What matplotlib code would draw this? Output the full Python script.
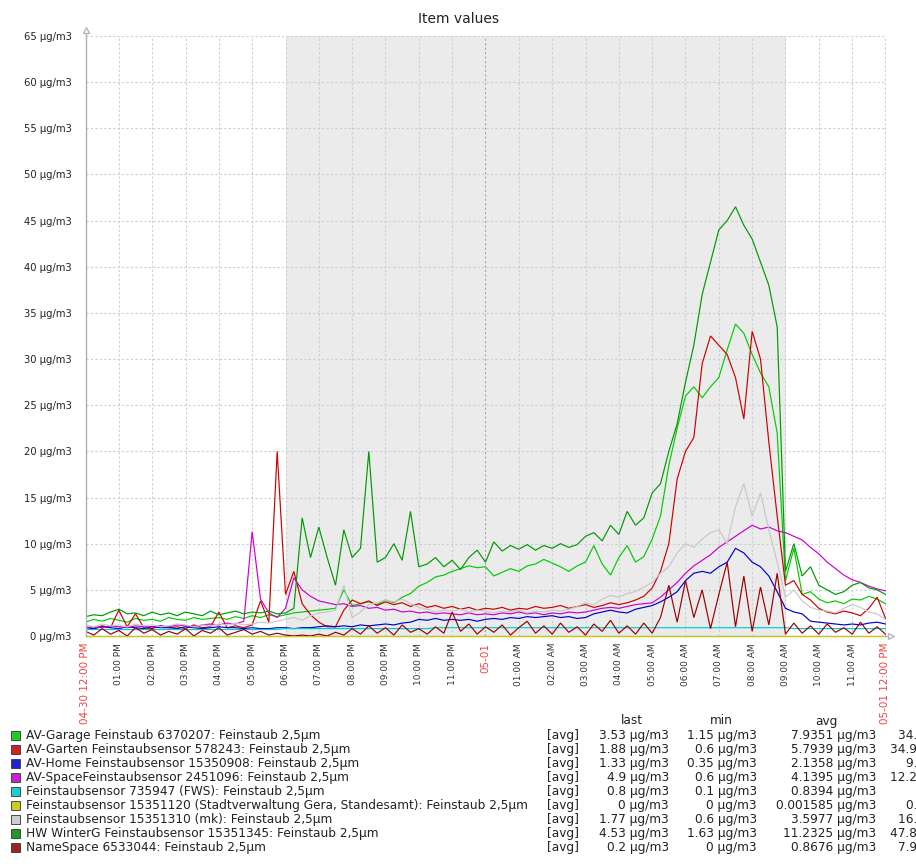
import matplotlib
matplotlib.use("Agg")
import matplotlib.pyplot as plt
from matplotlib.patches import Rectangle
import numpy as np

# ---------------- data (15-minute samples, 04-30 12:00 PM .. 05-01 12:00 PM) ----------------
hours = [i * 0.25 for i in range(97)]

av_garage = [1.5, 1.8, 1.6, 1.9, 1.7, 1.5, 1.9, 1.7, 1.8, 1.6, 2.0, 1.8, 1.7, 2.0, 1.8, 1.9,
             2.0, 1.8, 2.1, 1.9, 2.2, 2.0, 2.3, 2.1, 2.3, 2.5, 2.6, 2.7, 2.8, 2.9, 3.0, 5.0,
             3.3, 3.5, 3.7, 3.4, 3.9, 3.6, 4.2, 4.6, 5.4, 5.8, 6.4, 6.6, 7.0, 7.3, 7.6, 7.4,
             7.5, 6.5, 6.9, 7.3, 7.0, 7.6, 7.8, 8.3, 7.9, 7.5, 7.0, 7.6, 8.0, 9.8, 7.8, 6.6,
             8.5, 9.8, 8.0, 8.6, 10.5, 13.0, 18.5, 22.5, 26.0, 27.0, 25.8, 27.0, 28.0, 31.0, 33.8, 32.8,
             30.5, 28.5, 27.0, 22.0, 6.0, 9.5, 4.5, 4.8, 4.0, 3.6, 3.8, 3.5, 4.0, 3.9, 4.3, 4.0,
             3.5]

av_garten = [1.0, 0.8, 1.1, 0.9, 2.8, 1.0, 2.4, 0.9, 0.8, 1.1, 0.9, 1.0, 0.8, 1.2, 0.9, 1.0,
             2.6, 0.9, 1.1, 0.9, 1.2, 3.8, 1.5, 20.0, 4.5, 7.0, 3.5, 2.3, 1.5, 1.0, 1.0, 2.8,
             3.9, 3.5, 3.8, 3.3, 3.7, 3.4, 3.6, 3.2, 3.5, 3.1, 3.3, 3.0, 3.2, 2.9, 3.1, 2.8,
             3.0, 2.9, 3.1, 2.8, 3.0, 2.9, 3.2, 3.0, 3.1, 3.3, 3.0, 3.2, 3.4, 3.1, 3.3, 3.6,
             3.4, 3.6, 3.9, 4.3, 5.2, 7.0, 10.0, 17.0, 20.0, 21.5, 29.5, 32.5, 31.5, 30.5, 28.0, 23.5,
             33.0, 30.0, 21.0, 13.0, 5.5, 6.0, 4.5, 3.9, 3.0, 2.6, 2.4, 2.7, 2.5, 2.2, 3.0, 4.2,
             1.9]

av_home = [0.9, 0.8, 1.0, 0.9, 0.8, 1.0, 0.9, 0.8, 1.0, 0.9, 0.9, 0.8, 1.0, 0.9, 0.8, 0.9,
           1.0, 0.9, 0.9, 0.8, 0.9, 0.8, 0.8, 0.9, 0.9, 0.8, 0.9, 0.9, 1.0, 1.1, 1.0, 1.1,
           1.0, 1.2, 1.1, 1.2, 1.3, 1.2, 1.4, 1.5, 1.8, 1.7, 1.9, 1.7, 1.8, 1.7, 1.8, 1.6,
           1.8, 1.9, 1.8, 2.0, 1.9, 2.1, 2.0, 2.1, 2.2, 2.0, 2.1, 1.9, 2.0, 2.4, 2.6, 2.8,
           2.6, 2.5, 2.9, 3.1, 3.3, 3.7, 4.2, 4.8, 6.0, 6.8, 7.0, 6.8, 7.5, 8.0, 9.5, 9.0,
           8.0, 7.5, 6.5, 4.8, 3.0, 2.6, 2.4, 1.6, 1.5, 1.4, 1.3, 1.2, 1.3, 1.2, 1.4, 1.5,
           1.3]

av_space = [0.9, 1.0, 0.9, 1.1, 1.0, 0.9, 1.1, 1.0, 1.0, 1.1, 1.0, 1.2, 1.1, 1.0, 1.2, 1.3,
            1.2, 1.4, 1.3, 1.6, 11.3, 4.0, 2.5, 2.0, 3.0, 6.3, 5.0, 4.3, 3.8, 3.6, 3.4, 3.5,
            3.2, 3.3, 3.0, 3.1, 2.8, 2.9, 2.6, 2.7, 2.5, 2.6, 2.4, 2.5, 2.4, 2.3, 2.5, 2.3,
            2.4, 2.3, 2.5, 2.4, 2.6, 2.4, 2.5, 2.3, 2.5, 2.4, 2.6, 2.5, 2.6, 2.8, 3.0, 3.1,
            3.0, 3.2, 3.4, 3.5, 3.6, 4.2, 5.0, 5.8, 6.8, 7.6, 8.2, 8.8, 9.6, 10.2, 10.8, 11.4,
            12.0, 11.6, 11.8, 11.4, 11.2, 10.8, 10.4, 9.6, 8.9, 8.0, 7.3, 6.6, 6.1, 5.8, 5.4, 5.1,
            4.9]

fws = [0.7, 0.7, 0.7, 0.7, 0.7, 0.7, 0.7, 0.7, 0.7, 0.7, 0.7, 0.7, 0.7, 0.7, 0.7, 0.7,
       0.7, 0.7, 0.7, 0.7, 0.7, 0.7, 0.7, 0.7, 0.8, 0.8, 0.8, 0.8, 0.8, 0.8, 0.8, 0.8,
       0.8, 0.8, 0.8, 0.8, 0.8, 0.8, 0.8, 0.8, 0.8, 0.8, 0.9, 0.9, 0.9, 0.9, 0.9, 0.9,
       0.9, 0.9, 0.9, 0.9, 0.9, 0.9, 0.9, 0.9, 0.9, 0.9, 0.9, 0.9, 0.9, 0.9, 0.9, 0.9,
       0.9, 0.9, 0.9, 0.9, 0.9, 0.9, 0.9, 0.9, 0.9, 0.9, 0.9, 0.9, 0.9, 0.9, 0.9, 0.9,
       0.9, 0.9, 0.9, 0.9, 0.9, 0.8, 0.8, 0.8, 0.8, 0.8, 0.8, 0.8, 0.8, 0.8, 0.8, 0.8,
       0.8]

gera = [0, 0, 0, 0, 0, 0, 0, 0, 0, 0, 0, 0, 0, 0, 0, 0, 0, 0, 0, 0, 0, 0, 0, 0,
        0, 0, 0, 0, 0, 0, 0, 0, 0, 0, 0, 0, 0, 0, 0, 0, 0, 0, 0, 0, 0, 0, 0, 0,
        0, 0, 0, 0, 0, 0, 0, 0, 0, 0, 0, 0, 0, 0, 0, 0, 0, 0, 0, 0, 0, 0, 0, 0,
        0, 0, 0, 0, 0, 0, 0, 0, 0, 0, 0, 0, 0, 0, 0, 0, 0, 0, 0, 0, 0, 0, 0, 0,
        0]

mk = [1.2, 1.0, 1.3, 1.1, 1.2, 1.0, 1.3, 1.1, 1.2, 1.0, 1.1, 1.3, 1.2, 1.0, 1.2, 1.1,
      1.3, 1.2, 1.4, 1.2, 1.3, 1.5, 1.4, 1.6, 1.8, 2.0, 1.7, 2.2, 2.5, 2.6, 2.8, 5.5,
      2.0, 2.6, 3.4, 3.6, 3.9, 3.7, 4.0, 3.5, 3.1, 2.9, 2.6, 2.8, 2.7, 2.9, 2.6, 2.8,
      2.7, 2.5, 2.7, 2.6, 2.8, 2.5, 2.7, 2.6, 2.8, 2.7, 2.9, 3.2, 3.6, 3.4, 4.0, 4.4,
      4.2, 4.6, 4.8, 5.3, 5.8, 6.8, 7.5, 9.0, 10.0, 9.6, 10.5, 11.2, 11.5, 10.0, 14.0, 16.5,
      13.0, 15.5, 11.5, 8.0, 4.2, 5.0, 3.8, 3.1, 2.8, 2.7, 2.5, 3.0, 3.4, 3.1, 2.6, 2.4,
      1.8]

hw_winterg = [2.1, 2.3, 2.2, 2.6, 2.9, 2.4, 2.5, 2.2, 2.6, 2.3, 2.5, 2.2, 2.6, 2.4, 2.2, 2.7,
              2.3, 2.5, 2.7, 2.4, 2.6, 2.5, 2.7, 2.4, 2.5, 3.0, 12.8, 8.5, 11.8, 8.5, 5.5, 11.5,
              8.5, 9.5, 20.0, 8.0, 8.5, 10.0, 8.2, 13.5, 7.5, 7.8, 8.5, 7.5, 8.2, 7.2, 8.5, 9.3,
              8.0, 10.2, 9.2, 9.8, 9.4, 9.9, 9.3, 9.8, 9.5, 10.0, 9.6, 9.9, 10.8, 11.2, 10.3, 12.0,
              11.0, 13.5, 12.0, 12.8, 15.5, 16.5, 20.0, 23.0, 27.5, 31.5, 37.0, 40.5, 44.0, 45.0, 46.5, 44.5,
              43.0, 40.5, 38.0, 33.5, 7.0, 10.0, 6.5, 7.5, 5.5, 5.0, 4.5, 4.8, 5.5, 5.8, 5.2, 5.0,
              4.5]

namespace = [0.5, 0.1, 0.8, 0.2, 0.6, 0.0, 0.9, 0.3, 0.7, 0.1, 0.5, 0.2, 0.8, 0.0, 0.6, 0.3,
             0.9, 0.1, 0.4, 0.7, 0.2, 0.5, 0.1, 0.3, 0.1, 0.0, 0.1, 0.0, 0.2, 0.0, 0.4, 0.1,
             0.8, 0.2, 1.1, 0.3, 0.9, 0.1, 1.2, 0.4, 0.8, 0.2, 1.0, 0.3, 2.6, 0.5, 1.3, 0.2,
             1.0, 0.4, 1.2, 0.1, 0.9, 1.6, 0.3, 1.1, 0.2, 1.4, 0.4, 1.0, 0.1, 1.3, 0.5, 1.7,
             0.3, 1.1, 0.2, 1.4, 0.3, 2.0, 5.5, 1.5, 6.0, 2.0, 5.0, 0.8, 4.5, 8.0, 1.0, 6.5,
             0.5, 5.3, 1.2, 6.8, 0.2, 1.4, 0.3, 1.1, 0.2, 1.3, 0.4, 0.9, 0.2, 1.5, 0.3, 1.0,
             0.2]

series_names = [
    "AV-Garage Feinstaub 6370207: Feinstaub 2,5µm",
    "AV-Garten Feinstaubsensor 578243: Feinstaub 2,5µm",
    "AV-Home Feinstaubsensor 15350908: Feinstaub 2,5µm",
    "AV-SpaceFeinstaubsensor 2451096: Feinstaub 2,5µm",
    "Feinstaubsensor 735947 (FWS): Feinstaub 2,5µm",
    "Feinstaubsensor 15351120 (Stadtverwaltung Gera, Standesamt): Feinstaub 2,5µm",
    "Feinstaubsensor 15351310 (mk): Feinstaub 2,5µm",
    "HW WinterG Feinstaubsensor 15351345: Feinstaub 2,5µm",
    "NameSpace 6533044: Feinstaub 2,5µm",
]
series_colors = ["#00cc00", "#cc0000", "#0000cc", "#cc00cc", "#00cccc",
                 "#cccc00", "#c8c8c8", "#009900", "#990000"]
legend_colors = ["#22cc22", "#cc2222", "#2222cc", "#cc22cc", "#22cccc",
                 "#cccc22", "#cccccc", "#229922", "#992222"]
last_vals = ["3.53 µg/m3", "1.88 µg/m3", "1.33 µg/m3", "4.9 µg/m3", "0.8 µg/m3",
             "0 µg/m3", "1.77 µg/m3", "4.53 µg/m3", "0.2 µg/m3"]
min_vals = ["1.15 µg/m3", "0.6 µg/m3", "0.35 µg/m3", "0.6 µg/m3", "0.1 µg/m3",
            "0 µg/m3", "0.6 µg/m3", "1.63 µg/m3", "0 µg/m3"]
avg_vals = ["7.9351 µg/m3", "5.7939 µg/m3", "2.1358 µg/m3", "4.1395 µg/m3", "0.8394 µg/m3",
            "0.001585 µg/m3", "3.5977 µg/m3", "11.2325 µg/m3", "0.8676 µg/m3"]
max_vals = ["34.1 µg/m3", "34.94 µg/m3", "9.7 µg/m3", "12.21 µg/m3", "1 µg/m3",
            "0.2 µg/m3", "16.7 µg/m3", "47.81 µg/m3", "7.95 µg/m3"]

y_ticks = [0, 5, 10, 15, 20, 25, 30, 35, 40, 45, 50, 55, 60, 65]
hour_labels = ["04-30 12:00 PM", "01:00 PM", "02:00 PM", "03:00 PM", "04:00 PM", "05:00 PM",
               "06:00 PM", "07:00 PM", "08:00 PM", "09:00 PM", "10:00 PM", "11:00 PM",
               "05-01", "01:00 AM", "02:00 AM", "03:00 AM", "04:00 AM", "05:00 AM",
               "06:00 AM", "07:00 AM", "08:00 AM", "09:00 AM", "10:00 AM", "11:00 AM",
               "05-01 12:00 PM"]
night_start, night_end = 6, 21   # shaded period (hours from start)

# ---------------- figure ----------------
W, H = 916, 866
fig = plt.figure(figsize=(W / 100, H / 100), dpi=100)
fig.patch.set_facecolor("white")

def fx(px):
    return px / W

def fy(py):
    return 1 - py / H

L, R, T, B = 85.5, 885.5, 36, 636
ax = fig.add_axes([fx(L), fy(B), (R - L) / W, (B - T) / H])
ax.set_xlim(0, 24)
ax.set_ylim(0, 65)
ax.set_facecolor("white")

ax.axvspan(night_start, night_end, color="#ebebeb", zorder=0, lw=0)

grid_c = "#c8d0d6"
for v in y_ticks[1:]:
    ax.axhline(v, color=grid_c, lw=0.8, ls=(0, (2, 2)), zorder=1)
for h in range(1, 24):
    c = "#a8a8a8" if h == 12 else grid_c
    ax.axvline(h, color=c, lw=0.8, ls=(0, (2, 2)), zorder=1)
ax.axvline(24, color=grid_c, lw=0.8, ls=(0, (2, 2)), zorder=1)

all_series = [av_garage, av_garten, av_home, av_space, fws, gera, mk, hw_winterg, namespace]
for k, (vals, col) in enumerate(zip(all_series, series_colors)):
    ax.plot(hours, vals, color=col, lw=0.85, zorder=3 + k, clip_on=False if k == 5 else True,
            solid_joinstyle="miter")

for s in ax.spines.values():
    s.set_visible(False)
axis_c = "#a9b3bd"
ax.plot([0, 0], [0, 1.008], transform=ax.transAxes, color=axis_c, lw=1, clip_on=False, zorder=20)
ax.plot([0, 1.005], [0, 0], transform=ax.transAxes, color=axis_c, lw=1, clip_on=False, zorder=2)
ax.plot([0], [1.010], transform=ax.transAxes, marker="^", ms=5, mfc="white", mec=axis_c,
        mew=0.9, clip_on=False, zorder=21)
ax.plot([1.007], [0], transform=ax.transAxes, marker=">", ms=5, mfc="white", mec=axis_c,
        mew=0.9, clip_on=False, zorder=21)

ax.set_yticks(y_ticks)
ax.set_yticklabels([f"{v} µg/m3" for v in y_ticks], fontsize=7.2, color="#222222")
ax.tick_params(axis="y", length=0, pad=10)

ax.set_xticks(list(range(25)))
ax.set_xticklabels(hour_labels, rotation=90)
ax.tick_params(axis="x", length=0, pad=5)
for i, lab in enumerate(ax.get_xticklabels()):
    if i in (0, 12, 24):
        lab.set_color("#ee4444")
        lab.set_fontsize(7.5)
    else:
        lab.set_color("#333333")
        lab.set_fontsize(6.5)
    lab.set_verticalalignment("top")

fig.text(0.5, fy(19), "Item values", ha="center", va="center", fontsize=10, color="#222222")

# ---------------- legend ----------------
fs = 8.7
tc = "#222222"
fig.text(fx(632), fy(721), "last", ha="center", va="center", fontsize=fs, color=tc)
fig.text(fx(721), fy(721), "min", ha="center", va="center", fontsize=fs, color=tc)
fig.text(fx(826), fy(721), "avg", ha="center", va="center", fontsize=fs, color=tc)
for r in range(9):
    yc = 735.5 + r * 13.95
    fig.patches.append(Rectangle((fx(11), fy(yc + 4.5)), 9 / W, 9 / H, transform=fig.transFigure,
                                 facecolor=legend_colors[r], edgecolor="#333333", lw=0.6))
    fig.text(fx(26), fy(yc), series_names[r], ha="left", va="center", fontsize=fs, color=tc)
    fig.text(fx(547), fy(yc), "[avg]", ha="left", va="center", fontsize=fs, color=tc)
    fig.text(fx(669), fy(yc), last_vals[r], ha="right", va="center", fontsize=fs, color=tc)
    fig.text(fx(757), fy(yc), min_vals[r], ha="right", va="center", fontsize=fs, color=tc)
    fig.text(fx(876), fy(yc), avg_vals[r], ha="right", va="center", fontsize=fs, color=tc)
    fig.text(fx(968), fy(yc), max_vals[r], ha="right", va="center", fontsize=fs, color=tc)

fig.savefig("out.png", dpi=100, facecolor="white")
